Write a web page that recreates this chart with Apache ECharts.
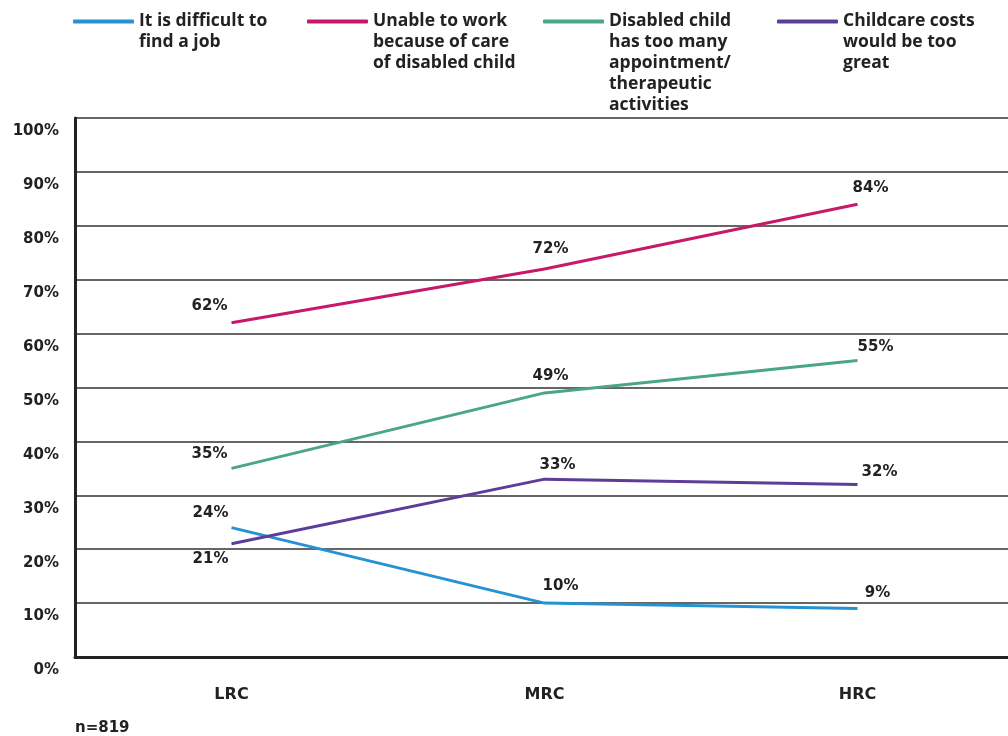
<!DOCTYPE html>
<html>
<head>
<meta charset="utf-8">
<script src="https://cdn.jsdelivr.net/npm/echarts@6/dist/echarts.min.js"></script>
<style>
html,body{margin:0;padding:0;background:#fff;}
#chart{width:1008px;height:736px;}
</style>
</head>
<body>
<div id="chart"></div>
<script>
// ---- data ----
var categories = ['LRC', 'MRC', 'HRC'];
var seriesNames = [
  'It is difficult to\nfind a job',
  'Unable to work\nbecause of care\nof disabled child',
  'Disabled child\nhas too many\nappointment/\ntherapeutic\nactivities',
  'Childcare costs\nwould be too\ngreat'
];
var difficultJob = [24, 10, 9];
var unableToWork = [62, 72, 84];
var tooManyAppointments = [35, 49, 55];
var childcareCosts = [21, 33, 32];
var yTicks = [0, 10, 20, 30, 40, 50, 60, 70, 80, 90, 100];
var sampleNote = 'n=819';

// ---- styling ----
var colors = ['#2593d3', '#c8186a', '#4aa58c', '#5c3e99'];
var legendLefts = [73, 307, 543, 777];
var labelOffsets = [
  [[-21, -2], [16, -4], [20, -3]],
  [[-22, -4], [6, -7], [13, -4]],
  [[-22, -2], [6, -4], [18, -1]],
  [[-21, 3], [13, -2], [22, 0]]
];
var labelPositions = [
  ['top', 'top', 'top'],
  ['top', 'top', 'top'],
  ['top', 'top', 'top'],
  ['bottom', 'top', 'top']
];
var allValues = [difficultJob, unableToWork, tooManyAppointments, childcareCosts];
var axisFont = 'DejaVu Sans';
var legendFont = 'Open Sans';
var LH = 21;

function padLines(n) {
  var s = '';
  for (var k = 0; k < n - 1; k++) s += '\n';
  return s;
}

var legends = seriesNames.map(function (name, i) {
  var n = name.split('\n').length;
  var H = (2 * n - 1) * LH;
  return {
    data: [name],
    left: legendLefts[i],
    top: 21.5 - H / 2,
    padding: 0,
    icon: 'roundRect',
    itemWidth: 61,
    itemHeight: 4,
    itemGap: 0,
    selectedMode: false,
    formatter: function (nm) { return padLines(n) + nm; },
    textStyle: {
      fontFamily: legendFont,
      fontWeight: 'bold',
      fontSize: 17.5,
      color: '#222',
      lineHeight: LH
    }
  };
});

var series = seriesNames.map(function (name, i) {
  return {
    name: name,
    type: 'line',
    data: allValues[i].map(function (v, j) {
      return {
        value: v,
        label: { position: labelPositions[i][j], offset: labelOffsets[i][j] }
      };
    }),
    symbol: 'circle',
    symbolSize: 0,
    showSymbol: true,
    lineStyle: { color: colors[i], width: 3 },
    itemStyle: { color: colors[i] },
    label: {
      show: true,
      formatter: '{c}%',
      fontFamily: axisFont,
      fontWeight: 'bold',
      fontSize: 15,
      color: '#222'
    },
    emphasis: { disabled: true },
    animation: false
  };
});

var chart = echarts.init(document.getElementById('chart'), null, { renderer: 'canvas' });
chart.setOption({
  backgroundColor: '#ffffff',
  animation: false,
  title: {
    text: sampleNote,
    left: 75,
    top: 721,
    padding: 0,
    textStyle: { fontFamily: axisFont, fontWeight: 'bold', fontSize: 15, color: '#222' }
  },
  legend: legends,
  grid: { left: 75, top: 118, right: -6, bottom: 79, containLabel: false, outerBoundsMode: 'none' },
  xAxis: {
    type: 'category',
    data: categories,
    boundaryGap: true,
    axisTick: { show: false },
    axisLine: { show: true, lineStyle: { color: '#222', width: 3 } },
    axisLabel: {
      margin: 30,
      fontFamily: axisFont,
      fontWeight: 'bold',
      fontSize: 16,
      color: '#222'
    },
    splitLine: { show: false }
  },
  yAxis: {
    type: 'value',
    min: yTicks[0],
    max: yTicks[yTicks.length - 1],
    interval: yTicks[1] - yTicks[0],
    axisTick: { show: false },
    axisLine: { show: true, lineStyle: { color: '#222', width: 3 } },
    axisLabel: {
      formatter: '{value}%',
      margin: 16,
      fontFamily: axisFont,
      fontWeight: 'bold',
      fontSize: 15,
      color: '#222',
      verticalAlign: 'top',
      lineHeight: 15,
      padding: [6, 0, 0, 0]
    },
    splitLine: { show: true, lineStyle: { color: '#333', width: 1.5 } }
  },
  series: series
});
</script>
</body>
</html>
